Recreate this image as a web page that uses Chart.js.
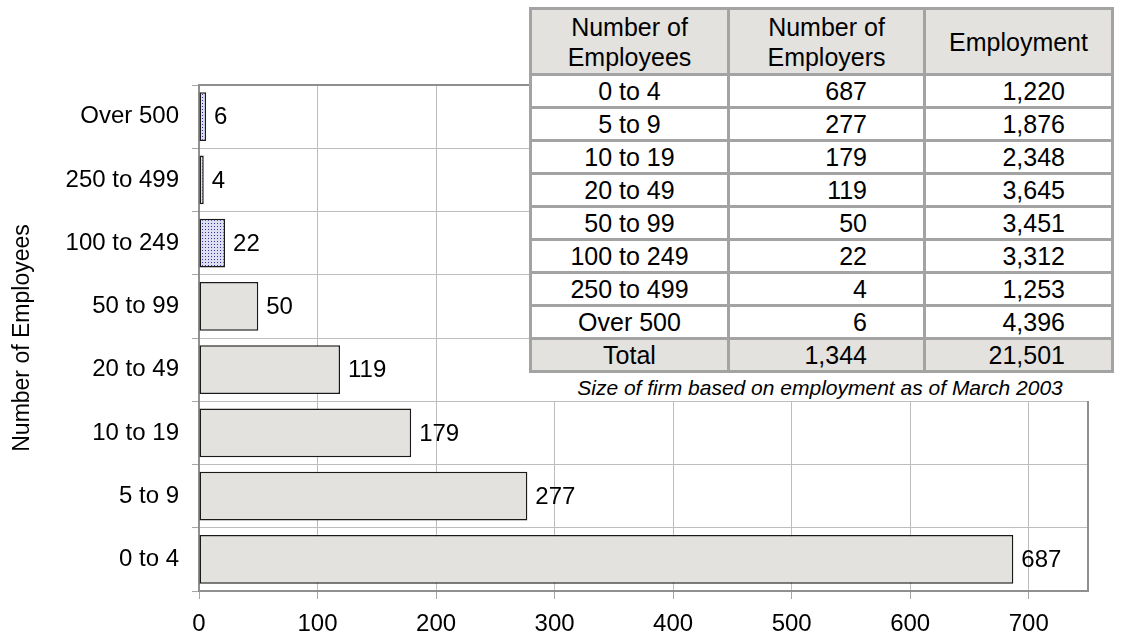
<!DOCTYPE html>
<html>
<head>
<meta charset="utf-8">
<script src="https://cdn.jsdelivr.net/npm/chart.js@4.4.1/dist/chart.umd.min.js"></script>
<style>
  html, body { margin: 0; padding: 0; background: #fff; }
  #wrap { position: relative; width: 1121px; height: 637px; overflow: hidden;
          font-family: "Liberation Sans", Arial, sans-serif; color: #000; }
  #chart { position: absolute; left: 0; top: 0; }
  #tableBox { position: absolute; left: 529px; top: 0; width: 588px; height: 401px; background: #fff; }
  #sizeTable { position: absolute; left: 0; top: 7px; width: 582px; border-collapse: collapse;
               table-layout: fixed; font-size: 25px; }
  #sizeTable td { border: 3px solid #a3a3a3; padding: 0; height: 30px; line-height: 28px; white-space: nowrap; }
  #sizeTable thead td { background: #e3e2de; text-align: center; height: 63px; line-height: 30px; }
  #sizeTable tr.total td { background: #e3e2de; }
  #sizeTable td.cls { text-align: center; }
  #sizeTable td.n2 { text-align: right; padding-right: 56px; }
  #sizeTable td.n3 { text-align: right; padding-right: 46px; }
  #caption { position: absolute; left: 0; top: 375px; width: 582px; text-align: center;
             font-style: italic; font-size: 21px; line-height: 26px; }
</style>
</head>
<body>
<div id="wrap">
  <canvas id="chart" width="1121" height="637"></canvas>
  <div id="tableBox">
    <table id="sizeTable">
      <colgroup><col style="width:198px"><col style="width:196px"><col style="width:188px"></colgroup>
      <thead><tr></tr></thead>
      <tbody></tbody>
    </table>
    <div id="caption"></div>
  </div>
</div>
<script>
  // size classes in table order (smallest first); the chart draws them bottom-up
  const SIZE_CLASSES = ['0 to 4', '5 to 9', '10 to 19', '20 to 49', '50 to 99', '100 to 249', '250 to 499', 'Over 500'];
  const EMPLOYERS = [687, 277, 179, 119, 50, 22, 4, 6];
  const EMPLOYMENT = [1220, 1876, 2348, 3645, 3451, 3312, 1253, 4396];
  const TABLE_HEADERS = ['Number of<br>Employees', 'Number of<br>Employers', 'Employment'];
  const TOTAL_LABEL = 'Total';
  const CAPTION = 'Size of firm based on employment as of March 2003';
  const AXIS_TITLE = 'Number of Employees';
  const X_TICKS = [0, 100, 200, 300, 400, 500, 600, 700];
  const X_MAX = 750;
  const DOTTED_CLASSES = ['100 to 249', '250 to 499', 'Over 500'];

  const FONT = '"Liberation Sans", Arial, sans-serif';
  const BAR_FILL = '#e3e2de';

  function fmt(n) { return n.toLocaleString('en-US'); }

  // --- table overlay ---
  const headRow = document.querySelector('#sizeTable thead tr');
  headRow.innerHTML = TABLE_HEADERS.map(function (h) { return '<td>' + h + '</td>'; }).join('');
  const tbody = document.querySelector('#sizeTable tbody');
  SIZE_CLASSES.forEach(function (c, i) {
    const tr = document.createElement('tr');
    tr.innerHTML = '<td class="cls">' + c + '</td><td class="n2">' + fmt(EMPLOYERS[i]) +
      '</td><td class="n3">' + fmt(EMPLOYMENT[i]) + '</td>';
    tbody.appendChild(tr);
  });
  const sum = function (a) { return a.reduce(function (s, v) { return s + v; }, 0); };
  const totalRow = document.createElement('tr');
  totalRow.className = 'total';
  totalRow.innerHTML = '<td class="cls">' + TOTAL_LABEL + '</td><td class="n2">' + fmt(sum(EMPLOYERS)) +
    '</td><td class="n3">' + fmt(sum(EMPLOYMENT)) + '</td>';
  tbody.appendChild(totalRow);
  document.getElementById('caption').textContent = CAPTION;

  // --- chart ---
  const canvas = document.getElementById('chart');
  const ctx = canvas.getContext('2d');

  function dotPattern() {
    const c = document.createElement('canvas');
    c.width = 3; c.height = 3;
    const g = c.getContext('2d');
    g.fillStyle = '#dedef2';
    g.fillRect(0, 0, 3, 3);
    g.fillStyle = '#33339c';
    g.fillRect(1, 1, 1, 1);
    return ctx.createPattern(c, 'repeat');
  }
  const dots = dotPattern();

  const valueLabels = {
    id: 'valueLabels',
    afterDatasetsDraw: function (chart) {
      const c = chart.ctx;
      const meta = chart.getDatasetMeta(0);
      c.save();
      c.font = '24px ' + FONT;
      c.fillStyle = '#000';
      c.textAlign = 'left';
      c.textBaseline = 'middle';
      meta.data.forEach(function (bar, i) {
        c.fillText(String(EMPLOYERS[i]), bar.x + 8, bar.y + 1);
      });
      c.restore();
    }
  };

  const plotFrame = {
    id: 'plotFrame',
    beforeDatasetsDraw: function (chart) {
      const a = chart.chartArea;
      const c = chart.ctx;
      c.save();
      c.strokeStyle = '#8f8f8f';
      c.lineWidth = 2;
      c.beginPath();
      c.moveTo(a.left, a.top);
      c.lineTo(a.right, a.top);
      c.lineTo(a.right, a.bottom);
      c.stroke();
      c.restore();
    }
  };

  new Chart(canvas, {
    type: 'bar',
    data: {
      labels: SIZE_CLASSES,
      datasets: [{
        data: EMPLOYERS,
        backgroundColor: SIZE_CLASSES.map(function (c) { return DOTTED_CLASSES.indexOf(c) >= 0 ? dots : BAR_FILL; }),
        borderColor: '#1a1a1a',
        borderWidth: 1.5,
        borderSkipped: false,
        barPercentage: 0.77,
        categoryPercentage: 1
      }]
    },
    options: {
      indexAxis: 'y',
      responsive: false,
      devicePixelRatio: 1,
      animation: false,
      layout: { padding: { left: 0, top: 85, right: 33, bottom: 0 } },
      plugins: { legend: { display: false }, tooltip: { enabled: false } },
      scales: {
        x: {
          type: 'linear',
          position: 'bottom',
          min: 0,
          max: X_MAX,
          afterBuildTicks: function (s) { s.ticks = X_TICKS.map(function (v) { return { value: v }; }); },
          afterFit: function (s) { s.height = 46; },
          grid: { color: '#bdbdbd', lineWidth: 1, tickLength: 8, tickColor: '#a6a6a6' },
          border: { color: '#8f8f8f', width: 2 },
          ticks: { color: '#000', font: { size: 24, family: FONT }, padding: 11, maxRotation: 0, autoSkip: false }
        },
        y: {
          type: 'category',
          reverse: true,
          offset: true,
          afterFit: function (s) { s.width = 199; },
          grid: { offset: true, color: '#bdbdbd', lineWidth: 1, tickLength: 7, tickColor: '#a6a6a6' },
          border: { color: '#8f8f8f', width: 2 },
          ticks: { color: '#000', font: { size: 24, family: FONT }, padding: 13, autoSkip: false },
          title: {
            display: true,
            text: AXIS_TITLE,
            color: '#000',
            font: { size: 23, family: FONT, lineHeight: 1.2 },
            padding: { top: 9, bottom: 0 }
          }
        }
      }
    },
    plugins: [valueLabels, plotFrame]
  });
</script>
</body>
</html>
